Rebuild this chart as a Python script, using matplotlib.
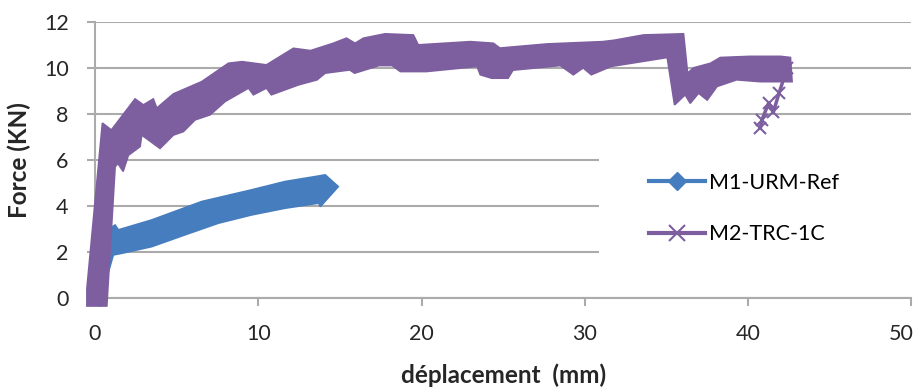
import matplotlib
matplotlib.use('Agg')
import matplotlib.pyplot as plt
import matplotlib.transforms as mtransforms
import numpy as np
from matplotlib.lines import Line2D
from matplotlib.patches import Rectangle

# series labels
labels = ['M1-URM-Ref', 'M2-TRC-1C']

# M1-URM-Ref: band envelope (upper left->right, lower right->left)
m1_upper_x = [-0.4, 0.6, 1.23, 1.43, 3.47, 6.53, 9.6, 11.64, 13.7, 14.1, 14.9, 13.8]
m1_upper_y = [0.3, 2.9, 3.17, 2.96, 3.39, 4.19, 4.7, 5.06, 5.3, 5.35, 4.84, 3.97]
m1_lower_x = [13.7, 11.64, 9.6, 7.56, 5.5, 3.47, 1.63, 1.12, 0.4, 0.3, -0.4]
m1_lower_y = [4.12, 3.9, 3.61, 3.25, 2.74, 2.23, 1.94, 1.87, 0.1, -0.35, -0.1]

# M2-TRC-1C: band envelope
m2_upper_x = [-0.5, 0.45, 1.0, 2.45, 2.96, 3.57, 3.78, 4.8, 6.53, 8.17, 9.0, 10.5,
              12.15, 13.2, 14.6, 15.4, 15.93, 16.44, 17.77, 19.5, 19.8, 23.0, 24.4,
              24.8, 27.7, 31.1, 31.8, 33.6, 36.05, 36.3, 36.66, 37.7, 38.3, 40.1,
              42.0, 42.6, 42.7]
m2_upper_y = [0.4, 7.6, 7.3, 8.65, 8.39, 8.65, 8.25, 8.87, 9.4, 10.2, 10.27, 10.13,
              10.85, 10.75, 11.07, 11.29, 11.07, 11.29, 11.48, 11.43, 11.0, 11.14, 11.07,
              10.86, 11.04, 11.14, 11.2, 11.43, 11.48, 9.77, 10.0, 10.2, 10.45, 10.5,
              10.5, 10.45, 9.4]
m2_lower_x = [42.7, 40.75, 39.3, 38.1, 37.5, 36.97, 36.46, 36.15, 35.5, 35.05, 31.6,
              30.4, 29.9, 29.3, 28.5, 25.6, 25.3, 24.3, 23.6, 23.4, 20.3, 18.7, 18.2,
              17.4, 15.9, 15.6, 14.1, 13.6, 12.46, 10.8, 10.5, 9.7, 9.4, 7.97, 7.05,
              6.13, 5.41, 4.8, 3.98, 2.86, 2.76, 2.04, 1.72, 1.4, 1.23, 0.72, -0.5]
m2_lower_y = [9.4, 9.4, 9.48, 9.19, 8.6, 8.9, 8.46, 8.83, 8.39, 10.45, 10.06,
              9.7, 10.0, 9.7, 10.1, 9.9, 9.55, 9.55, 9.7, 10.06, 9.84, 9.84, 10.1,
              10.1, 9.77, 9.91, 9.77, 9.48, 9.26, 8.83, 9.12, 8.83, 9.12, 8.54, 7.96,
              7.74, 7.23, 7.08, 6.5, 7.08, 6.58, 6.2, 5.5, 5.85, 5.7, -0.35, -0.35]

# M2-TRC-1C unloading tail with visible markers
m2_tail_x = [42.4, 41.9, 41.56, 41.26, 40.85, 40.75]
m2_tail_y = [10.0, 8.9, 8.1, 8.46, 7.74, 7.38]

x_ticks = [0, 10, 20, 30, 40, 50]
y_ticks = [0, 2, 4, 6, 8, 10, 12]

blue = '#467DBE'
purple = '#7D5FA0'
grid_c = '#ABABAB'
text_c = '#262626'

plt.rcParams['font.family'] = ['Lato', 'DejaVu Sans']

fig = plt.figure(figsize=(9.14, 3.9), dpi=100)
ax = fig.add_axes([0.104, 0.236, 0.893, 0.708])

ax.fill(m1_upper_x + m1_lower_x, m1_upper_y + m1_lower_y, color=blue,
        lw=1.2, zorder=2, clip_on=False)
ax.fill(m2_upper_x + m2_lower_x, m2_upper_y + m2_lower_y, color=purple,
        lw=1.2, zorder=3, clip_on=False)
ax.plot(m2_tail_x, m2_tail_y, color=purple, lw=2.5, marker='x', ms=9, mew=1.5,
        zorder=3)

ax.set_xlim(0, 50)
ax.set_ylim(0, 12)
ax.set_xticks(x_ticks)
ax.set_yticks(y_ticks)
ax.set_axisbelow(True)
ax.yaxis.grid(True, color=grid_c, lw=1.5)
ax.tick_params(axis='y', length=6, width=1.5, color=grid_c, pad=13,
               labelsize=15.5, labelcolor=text_c)
ax.tick_params(axis='x', length=6, width=1.5, color=grid_c, pad=13,
               labelsize=15.5, labelcolor=text_c)
for side in ['top', 'right']:
    ax.spines[side].set_visible(False)
for side in ['left', 'bottom']:
    ax.spines[side].set_color(grid_c)
    ax.spines[side].set_linewidth(1.5)

# last x label sits on the figure edge, pull it in a little so it stays readable
last_lbl = ax.get_xticklabels()[-1]
last_lbl.set_transform(last_lbl.get_transform()
                       + mtransforms.ScaledTranslation(-0.1, 0, fig.dpi_scale_trans))

ax.set_xlabel('déplacement  (mm)', fontsize=17.5, fontweight='bold', color=text_c,
              labelpad=14)
ax.set_ylabel('Force (KN)', fontsize=17.5, fontweight='bold', color=text_c,
              labelpad=9)

# white legend area covering the gridlines
ax.add_patch(Rectangle((30.85, 0.4), 19.3, 6.2, facecolor='white', edgecolor='none',
                       zorder=1, clip_on=False))

handles = [
    Line2D([], [], color=blue, lw=3, marker='D', ms=9),
    Line2D([], [], color=purple, lw=3, marker='x', ms=11, mew=1.5),
]
ax.legend(handles, labels, loc='center left', bbox_to_anchor=(0.668, 0.324),
          frameon=False, fontsize=15.5, handlelength=2.6, handletextpad=0.2,
          labelspacing=1.45, borderaxespad=0)

fig.savefig('out.png', dpi=100)
